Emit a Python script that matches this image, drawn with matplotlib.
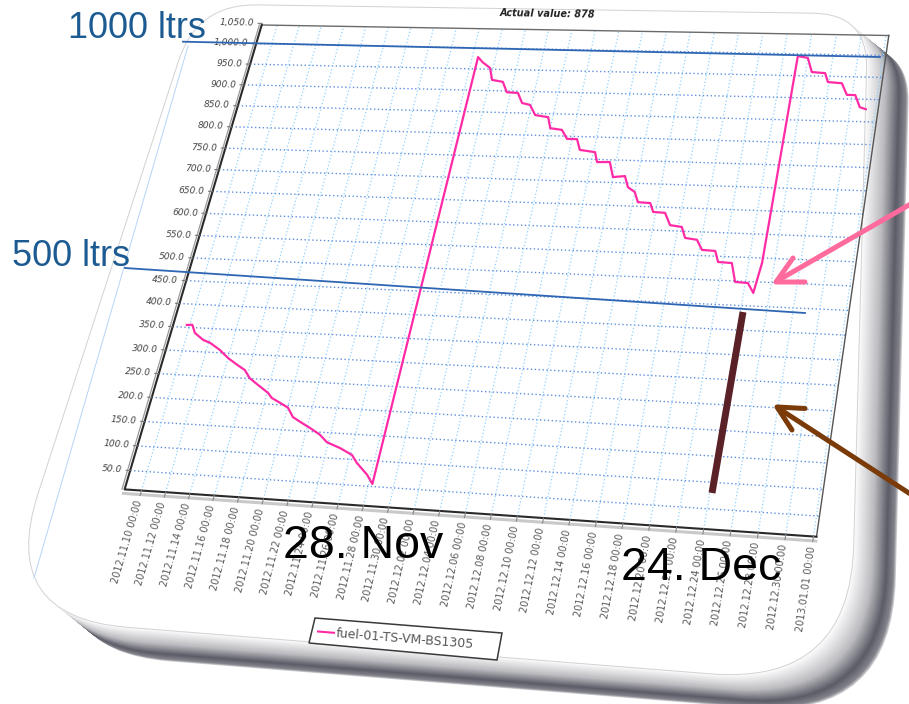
import numpy as np
import pandas as pd
import matplotlib
matplotlib.use("Agg")
import matplotlib.pyplot as plt
import matplotlib.dates as mdates
import matplotlib.transforms as mtransforms
from matplotlib.path import Path
from matplotlib.patches import PathPatch, Polygon

# ---------------- data ----------------
fuel_time = [
    "2012-11-09 18:00", "2012-11-10 05:00", "2012-11-10 15:00", "2012-11-11 12:00",
    "2012-11-12 03:00", "2012-11-13 03:00", "2012-11-14 00:00", "2012-11-14 22:00",
    "2012-11-15 16:00", "2012-11-16 06:00", "2012-11-17 02:00", "2012-11-18 02:00",
    "2012-11-18 12:00", "2012-11-19 07:00", "2012-11-20 01:00", "2012-11-20 15:00",
    "2012-11-21 12:00", "2012-11-22 06:00", "2012-11-23 04:00", "2012-11-23 21:00",
    "2012-11-25 01:00", "2012-11-26 03:00", "2012-11-26 16:00", "2012-11-27 17:00",
    "2012-11-28 07:00", "2012-11-28 12:00", "2012-11-29 00:00", "2012-11-29 18:00",
    "2012-11-30 04:00", "2012-12-01 03:00", "2012-12-01 16:00", "2012-12-02 15:00",
    "2012-12-03 04:00", "2012-12-03 21:00", "2012-12-04 12:00", "2012-12-05 15:00",
    "2012-12-06 00:00", "2012-12-07 00:00", "2012-12-07 14:00", "2012-12-08 10:00",
    "2012-12-08 20:00", "2012-12-10 03:00", "2012-12-10 11:00", "2012-12-11 12:00",
    "2012-12-12 00:00", "2012-12-12 23:00", "2012-12-13 09:00", "2012-12-14 00:00",
    "2012-12-14 10:00", "2012-12-15 10:00", "2012-12-15 19:00", "2012-12-16 18:00",
    "2012-12-17 08:00", "2012-12-18 07:00", "2012-12-18 17:00", "2012-12-19 16:00",
    "2012-12-20 05:00", "2012-12-21 06:00", "2012-12-21 15:00", "2012-12-22 17:00",
    "2012-12-23 05:00", "2012-12-24 05:00", "2012-12-24 18:00", "2012-12-25 01:00",
    "2012-12-25 04:00", "2012-12-26 00:00", "2012-12-26 12:00", "2012-12-27 14:00",
    "2012-12-27 22:00", "2012-12-29 01:00", "2012-12-29 14:00", "2012-12-30 06:00",
    "2012-12-30 18:00", "2012-12-31 06:00",
]
fuel_litres = [
    355, 356, 339, 325, 320, 306, 290, 277, 267, 251, 238, 223, 213, 204, 195, 177,
    166, 157, 145, 131, 121, 109, 94, 72, 55, 978, 966, 953, 925, 921, 897, 896,
    873, 869, 846, 842, 817, 814, 794, 794, 770, 766, 744, 745, 712, 715, 691, 681,
    659, 658, 639, 638, 612, 609, 586, 583, 562, 561, 538, 537, 498, 497, 477, 540,
    995, 991, 959, 957, 937, 935, 909, 909, 882, 878,
]
series_name = "fuel-01-TS-VM-BS1305"
title_text = "Actual value: 878"

y_ticks = [50.0, 100.0, 150.0, 200.0, 250.0, 300.0, 350.0, 400.0, 450.0, 500.0,
           550.0, 600.0, 650.0, 700.0, 750.0, 800.0, 850.0, 900.0, 950.0, 1000.0, 1050.0]
x_ticks = ["2012-11-10", "2012-11-12", "2012-11-14", "2012-11-16", "2012-11-18",
           "2012-11-20", "2012-11-22", "2012-11-24", "2012-11-26", "2012-11-28",
           "2012-11-30", "2012-12-02", "2012-12-04", "2012-12-06", "2012-12-08",
           "2012-12-10", "2012-12-12", "2012-12-14", "2012-12-16", "2012-12-18",
           "2012-12-20", "2012-12-22", "2012-12-24", "2012-12-26", "2012-12-28",
           "2012-12-30", "2013-01-01"]
x_range = ["2012-11-08 14:10", "2013-01-01 05:14"]
y_range = [12.0, 1046.0]

# ---------------- figure / layers ----------------
W, HP = 909, 704
fig = plt.figure(figsize=(W / 100, HP / 100), dpi=100)
fig.patch.set_facecolor("white")

def pixel_axes(z):
    a = fig.add_axes([0, 0, 1, 1], zorder=z)
    a.set_xlim(0, W)
    a.set_ylim(HP, 0)
    a.axis("off")
    a.set_autoscale_on(False)
    return a

bg = pixel_axes(0)
ax = fig.add_axes([0, 0, 1, 1], zorder=1)
ax.axis("off")
ax.set_autoscale_on(False)
fg = pixel_axes(2)

xnum = mdates.date2num(pd.to_datetime(fuel_time))
xt_num = mdates.date2num(pd.to_datetime(x_ticks))
xr = mdates.date2num(pd.to_datetime(x_range))
ax.set_xlim(xr[0], xr[1])
ax.set_ylim(y_range[0], y_range[1])

# ---------------- perspective transform (screenshot is tilted) ----------------
class Perspective(mtransforms.Transform):
    input_dims = 2
    output_dims = 2
    is_separable = False
    has_inverse = False

    def __init__(self, H):
        super().__init__()
        self.H = np.asarray(H, float)

    def transform_non_affine(self, values):
        v = np.asarray(values, float).reshape(-1, 2)
        q = np.column_stack([v, np.ones(len(v))]) @ self.H.T
        return q[:, :2] / q[:, 2:3]

def homography(src, dst):
    A = []
    for (x, y), (X, Y) in zip(src, dst):
        A.append([x, y, 1, 0, 0, 0, -X * x, -X * y, -X])
        A.append([0, 0, 0, x, y, 1, -Y * x, -Y * y, -Y])
    _, _, Vt = np.linalg.svd(np.array(A, float))
    Hm = Vt[-1].reshape(3, 3)
    return Hm / Hm[2, 2]

plot_corners_px = [(124.6, 489.4), (816.5, 536.7), (888.8, 35.5), (261.7, 25.0)]
Hm = homography([(0, 0), (1, 0), (1, 1), (0, 1)], plot_corners_px)
to_px = ax.transScale + ax.transLimits + Perspective(Hm)
T = to_px + fg.transData

def px(x, y):
    return to_px.transform(np.array([[x, y]], float))[0]

x0, x1 = ax.get_xlim()
y0, y1 = ax.get_ylim()

# ---------------- card (rounded, shadowed frame) ----------------
def rounded_quad(pts, radii):
    pts = np.asarray(pts, float)
    n = len(pts)
    verts, codes = [], []
    for i in range(n):
        p, prv, nxt = pts[i], pts[i - 1], pts[(i + 1) % n]
        d1 = (prv - p) / np.linalg.norm(prv - p)
        d2 = (nxt - p) / np.linalg.norm(nxt - p)
        a, b = p + d1 * radii[i], p + d2 * radii[i]
        verts.append(a)
        codes.append(Path.MOVETO if i == 0 else Path.LINETO)
        verts += [p, b]
        codes += [Path.CURVE3, Path.CURVE3]
    verts.append(verts[0])
    codes.append(Path.CLOSEPOLY)
    return np.array(verts), codes

card_pts = [(197, 4), (868, 14), (850, 685), (-2, 617)]
card_r = [60, 55, 140, 130]
cverts, ccodes = rounded_quad(card_pts, card_r)
shift = np.array([42.0, 34.0])
N = 50
for k in range(N + 1):
    t = k / N
    g = np.interp(t, [0, 0.05, 0.22, 0.55, 1.0], [0.80, 0.52, 0.36, 0.74, 1.0])
    col = (g, g, min(1.0, g + 0.07 * (1 - g)))
    vv = cverts + (1 - t) * shift
    bg.add_patch(PathPatch(Path(vv, ccodes), facecolor=col, edgecolor="none"))
bg.add_patch(PathPatch(Path(cverts, ccodes), facecolor="none",
                       edgecolor="#d2d2d2", lw=0.7))
bg.plot([188, 34], [46, 578], color="#b5d4f7", lw=0.7)

# ---------------- chart (drawn through the perspective transform) ----------------
kw = dict(transform=T, clip_on=False)
for yt in y_ticks:
    if yt <= y1:
        ax.plot([x0, x1], [yt, yt], color="#5f8fdc", lw=1.0, ls=(0, (1, 1.8)), **kw)
for xt in xt_num:
    ax.plot([xt, xt], [y0, y1], color="#8fd2ff", lw=0.9, ls=(0, (1, 1.8)), **kw)

# frame
ax.plot([x0, x1], [y0 - 8, y0 - 8], color="#c9c9c9", lw=2.2, **kw)
ax.plot([x0 - 0.22, x0 - 0.22], [y0, y1], color="#9a9a9a", lw=0.9, **kw)
ax.plot([x0, x1], [y1, y1], color="#6a6a6a", lw=1.0, **kw)
ax.plot([x1, x1], [y0, y1], color="#555555", lw=1.0, **kw)
ax.plot([x1, x0, x0], [y0, y0, y1], color="#2a2a2a", lw=1.5, **kw)

# series
ax.plot(xnum, fuel_litres, color="#ff2aa5", lw=1.6, solid_joinstyle="round", **kw)

# y tick labels
for yt in y_ticks:
    p, q = px(x0, yt), px(x1, yt)
    h = (q - p) / np.hypot(*(q - p))
    ang = np.degrees(np.arctan2(-h[1], h[0]))
    tk = p - 4 * h
    fg.plot([p[0], tk[0]], [p[1], tk[1]], color="#777777", lw=0.8, zorder=1)
    a = p - 8 * h
    fg.text(a[0], a[1], f"{yt:,.1f}", rotation=ang, rotation_mode="anchor",
            ha="right", va="center", fontsize=6.5, style="italic", color="#444444",
            zorder=1)

# x tick labels
for xt, lab in zip(xt_num, pd.to_datetime(x_ticks)):
    p, q = px(xt, y0), px(xt, y1)
    up = (q - p) / np.hypot(*(q - p))
    ang = np.degrees(np.arctan2(-up[1], up[0]))
    tk = p - 5 * up
    fg.plot([p[0], tk[0]], [p[1], tk[1]], color="#888888", lw=0.8, zorder=1)
    a = p - 10 * up
    fg.text(a[0], a[1], lab.strftime("%Y.%m.%d %H:%M"), rotation=ang,
            rotation_mode="anchor", ha="right", va="center", fontsize=7,
            color="#5a5a5a", zorder=1)

# title
fg.text(547, 14, title_text, fontsize=7, weight="bold", style="italic",
        color="#222222", ha="center", va="center", rotation=-1, zorder=1)

# legend box
fg.add_patch(Polygon([(315, 618), (502, 633), (497, 660), (309, 643)], closed=True,
                     facecolor="white", edgecolor="#3a3a3a", lw=1.1, zorder=1))
fg.plot([318, 334], [631.5, 632.8], color="#ff2aa5", lw=1.5, zorder=2)
fg.text(336, 634, series_name, rotation=-4.6, rotation_mode="anchor",
        ha="left", va="center", fontsize=9, color="#555555", zorder=2)

# ---------------- slide annotations ----------------
ann_font = "Liberation Sans"
fg.plot([183, 880], [41.7, 57], color="#2f66b3", lw=1.3, zorder=5)
fg.plot([125, 805], [268, 313], color="#2f66b3", lw=1.3, zorder=5)
fg.text(68, 38, "1000 ltrs", fontsize=25.9, family=ann_font, color="#1c5b91",
        ha="left", va="baseline", zorder=6)
fg.text(12, 266, "500 ltrs", fontsize=25.9, family=ann_font, color="#1c5b91",
        ha="left", va="baseline", zorder=6)
fg.text(283, 558, "28. Nov", fontsize=33.5, family=ann_font, color="black",
        ha="left", va="baseline", zorder=6)
fg.text(621, 580, "24. Dec", fontsize=33.5, family=ann_font, color="black",
        ha="left", va="baseline", zorder=6)

# maroon marker bar
fg.plot([743, 712], [312, 493], color="#5a2226", lw=5.0, solid_capstyle="butt", zorder=5)

# pink arrow
pink = "#ff6b9c"
fg.plot([935, 777], [190, 281], color=pink, lw=3.6, solid_capstyle="round", zorder=5)
fg.plot([793, 776, 805], [258, 282, 282], color=pink, lw=3.6,
        solid_capstyle="round", solid_joinstyle="round", zorder=5)

# brown arrow
brown = "#7a3b08"
fg.plot([935, 778], [510, 408], color=brown, lw=3.6, solid_capstyle="round", zorder=5)
fg.plot([805, 777, 792], [408.5, 407, 430], color=brown, lw=3.6,
        solid_capstyle="round", solid_joinstyle="round", zorder=5)

fig.savefig("out.png", dpi=100)
